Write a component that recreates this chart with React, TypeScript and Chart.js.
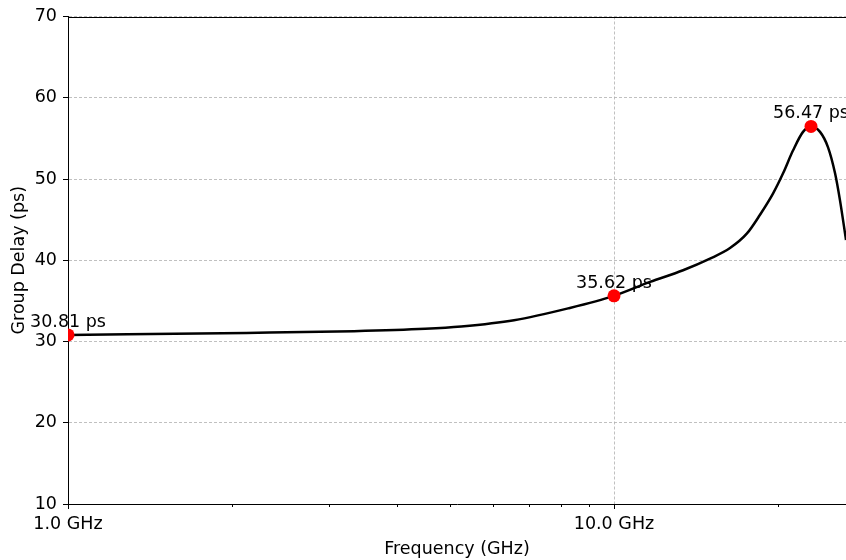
import React, { useEffect, useRef } from "react";
import { Chart, registerables } from "chart.js";

Chart.register(...registerables);

// Curve (frequency in GHz, group delay in ps)
const freqGHz = [1.0, 2.12, 3.34, 4.51, 5.25, 6.56, 8.24, 10.0, 11.64, 13.38, 14.99, 16.31, 17.52, 18.51, 19.55, 20.4, 21.27, 22.19, 22.95, 23.84, 24.66, 25.4, 25.93, 26.6];
const delayPs = [30.81, 31.06, 31.27, 31.56, 31.85, 32.62, 34.08, 35.62, 37.33, 38.77, 40.2, 41.5, 43.3, 45.6, 48.2, 50.7, 53.5, 55.8, 56.47, 55.8, 53.9, 50.7, 47.4, 42.5];

// Annotated markers
const markerFreqGHz = [1.0, 10.0, 22.95];
const markerDelayPs = [30.81, 35.62, 56.47];

// Axis ticks
const xMajorTicks = [1, 10];
const xMinorTicks = [2, 3, 4, 5, 6, 7, 8, 9, 20];
const xMin = 1;
const xMax = 26.6;
const yMin = 10;
const yMax = 70;
const yStep = 10;

const FONT = "'DejaVu Sans', sans-serif";
const FONT_SIZE = 17.5;

const overlayPlugin = {
  id: "overlay",
  afterDraw(chart: any) {
    const { ctx, chartArea, scales } = chart;
    ctx.save();
    // top spine
    ctx.strokeStyle = "#000";
    ctx.lineWidth = 1;
    ctx.beginPath();
    ctx.moveTo(chartArea.left, Math.round(chartArea.top) + 0.5);
    ctx.lineTo(chartArea.right, Math.round(chartArea.top) + 0.5);
    ctx.stroke();
    // minor x ticks
    for (const v of xMinorTicks) {
      const x = Math.round(scales.x.getPixelForValue(v)) + 0.5;
      ctx.beginPath();
      ctx.moveTo(x, chartArea.bottom);
      ctx.lineTo(x, chartArea.bottom + 3);
      ctx.stroke();
    }
    // marker labels
    const meta = chart.getDatasetMeta(0);
    ctx.fillStyle = "#000";
    ctx.font = `${FONT_SIZE}px ${FONT}`;
    ctx.textAlign = "center";
    ctx.textBaseline = "alphabetic";
    meta.data.forEach((pt: any, i: number) => {
      ctx.fillText(`${markerDelayPs[i].toFixed(2)} ps`, pt.x, pt.y - 8);
    });
    ctx.restore();
  },
};

export default function App() {
  const ref = useRef<HTMLCanvasElement | null>(null);

  useEffect(() => {
    if (!ref.current) return;
    Chart.defaults.font.family = FONT;
    Chart.defaults.font.size = FONT_SIZE;
    Chart.defaults.color = "#000";

    const chart = new Chart(ref.current, {
      type: "line",
      data: {
        datasets: [
          {
            data: markerFreqGHz.map((f, i) => ({ x: f, y: markerDelayPs[i] })),
            showLine: false,
            pointRadius: 6.5,
            pointHoverRadius: 6.5,
            pointBackgroundColor: "#ff0000",
            pointBorderColor: "#ff0000",
            pointBorderWidth: 0,
            clip: 0,
          },
          {
            data: freqGHz.map((f, i) => ({ x: f, y: delayPs[i] })),
            borderColor: "#000",
            borderWidth: 2.5,
            pointRadius: 0,
            cubicInterpolationMode: "monotone",
            fill: false,
          },
        ],
      },
      options: {
        animation: false,
        responsive: false,
        events: [],
        layout: { autoPadding: false, padding: { top: 16, left: 0, right: 0, bottom: 0 } },
        plugins: {
          legend: { display: false },
          tooltip: { enabled: false },
        },
        scales: {
          x: {
            type: "logarithmic",
            min: xMin,
            max: xMax,
            afterBuildTicks: (scale: any) => {
              scale.ticks = xMajorTicks.map((v) => ({ value: v }));
            },
            afterFit: (scale: any) => {
              scale.height = 56;
              scale.paddingRight = 0;
              scale.paddingLeft = 0;
            },
            ticks: {
              autoSkip: false,
              maxRotation: 0,
              padding: 5,
              color: "#000",
              callback: (v: any) => `${Number(v).toFixed(1)} GHz`,
            },
            grid: {
              color: "#b0b0b0",
              lineWidth: 0.8,
              tickColor: "#000",
              tickLength: 5,
              tickWidth: 1,
            },
            border: { color: "#000", width: 1, dash: [3, 2] },
            title: {
              display: true,
              text: "Frequency (GHz)",
              color: "#000",
              padding: { top: 0, bottom: 0 },
            },
          },
          y: {
            type: "linear",
            min: yMin,
            max: yMax,
            afterFit: (scale: any) => {
              scale.width = 68;
            },
            ticks: {
              stepSize: yStep,
              padding: 6,
              color: "#000",
            },
            grid: {
              color: "#b0b0b0",
              lineWidth: 0.8,
              tickColor: "#000",
              tickLength: 5,
              tickWidth: 1,
            },
            border: { color: "#000", width: 1, dash: [3, 2] },
            title: {
              display: true,
              text: "Group Delay (ps)",
              color: "#000",
              padding: { top: 9, bottom: 0 },
            },
          },
        },
      } as any,
      plugins: [overlayPlugin],
    });
    return () => chart.destroy();
  }, []);

  return (
    <div style={{ position: "absolute", left: 0, top: 0, width: 846, height: 560, background: "#fff" }}>
      <canvas ref={ref} width={846} height={560} style={{ display: "block" }} />
    </div>
  );
}
